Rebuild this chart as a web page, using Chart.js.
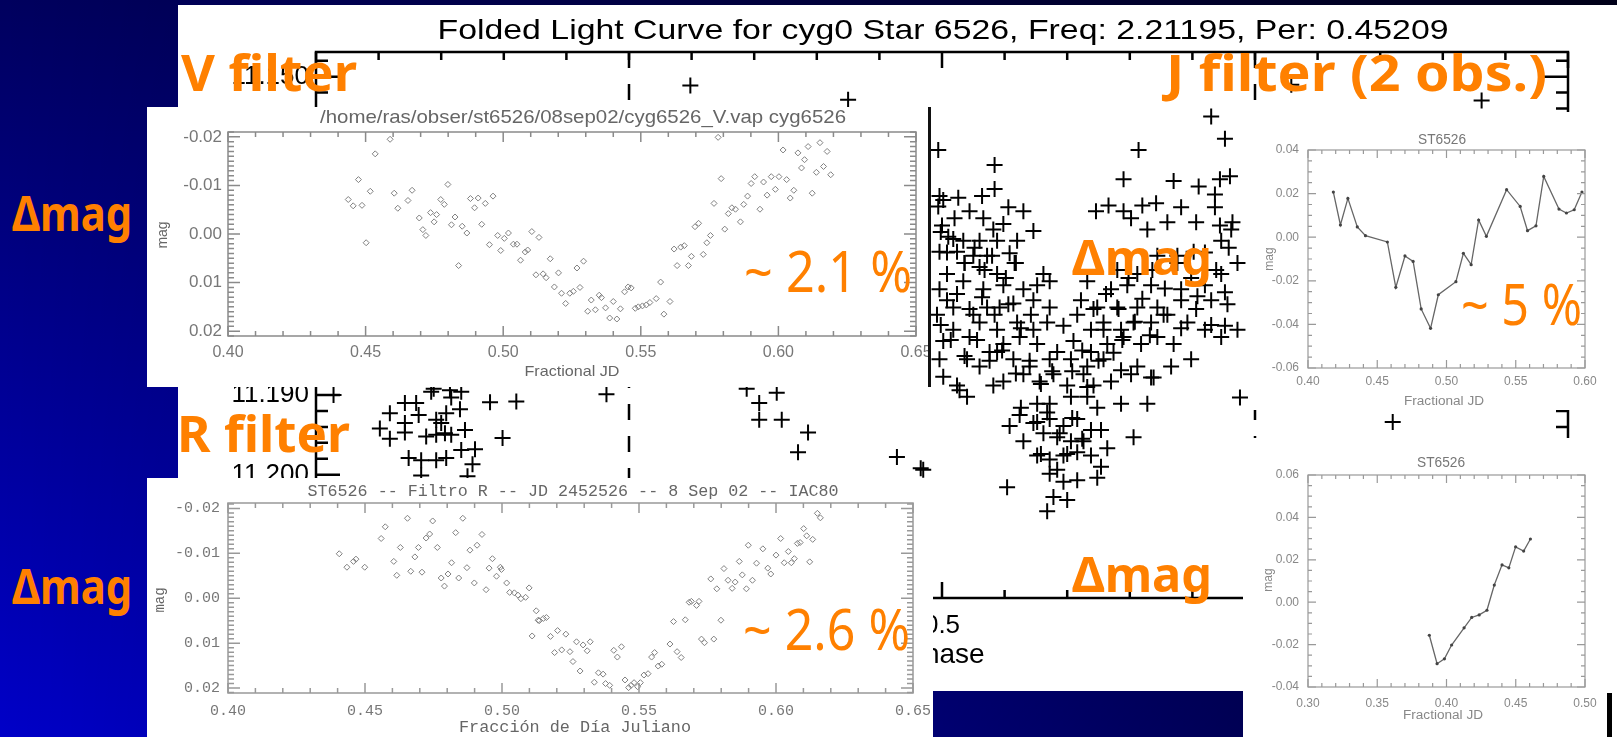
<!DOCTYPE html>
<html>
<head>
<meta charset="utf-8">
<script src="https://cdn.jsdelivr.net/npm/chart.js@4.4.1/dist/chart.umd.min.js"></script>
<style>
html, body { margin: 0; padding: 0; }
body {
    width: 1617px; height: 737px; overflow: hidden; position: relative;
    background: linear-gradient(to right, rgba(0,0,0,0) 0%, rgba(0,0,0,0.75) 100%),
                linear-gradient(to bottom, #00005e, #0000c8);
}
.panel { position: absolute; background: #fff; overflow: hidden; }
.panel canvas { position: absolute; left: 0; top: 0; }
.note {
    position: absolute; color: #ff8000; white-space: nowrap; line-height: 1;
    font-family: 'Comic Sans MS', 'Noto Sans', sans-serif; transform-origin: 0 0;
}
</style>
</head>
<body>

<div class="panel" id="mainPanel" style="left:178px;top:5px;width:1439px;height:686px">
    <canvas id="mainChart" width="1439" height="686"></canvas>
</div>
<div class="panel" id="vPanel" style="left:147px;top:107px;width:784px;height:280px">
    <canvas id="vChart" width="784" height="280"></canvas>
    <div style="position:absolute;left:781px;top:0;width:3px;height:280px;background:#111"></div>
</div>
<div class="panel" id="rPanel" style="left:147px;top:478px;width:786px;height:259px">
    <canvas id="rChart" width="786" height="259"></canvas>
</div>
<div class="panel" id="j1Panel" style="left:1250px;top:112px;width:367px;height:298px">
    <canvas id="j1Chart" width="367" height="298"></canvas>
</div>
<div class="panel" id="j2Panel" style="left:1243px;top:438px;width:374px;height:299px">
    <canvas id="j2Chart" width="374" height="299"></canvas>
    <div style="position:absolute;left:364px;top:255px;width:5px;height:44px;background:#000"></div>
</div>

<!-- orange slide annotations -->
<div class="note" data-x="181" data-b="91" data-w="176" style="font-size:50px;font-weight:bold">V filter</div>
<div class="note" data-x="1166" data-b="91" data-w="381" style="font-size:50px;font-weight:bold">J filter (2 obs.)</div>
<div class="note" data-x="177" data-b="452" data-w="173" style="font-size:50px;font-weight:bold">R filter</div>
<div class="note" data-x="12" data-b="231" data-w="120" style="font-size:48px;font-weight:bold">Δmag</div>
<div class="note" data-x="12" data-b="604" data-w="120" style="font-size:48px;font-weight:bold">Δmag</div>
<div class="note" data-x="1072" data-b="275" data-w="140" style="font-size:48px;font-weight:bold">Δmag</div>
<div class="note" data-x="1072" data-b="592" data-w="140" style="font-size:48px;font-weight:bold">Δmag</div>
<div class="note" data-x="744" data-b="292" data-w="168" style="font-size:56px">~ 2.1 %</div>
<div class="note" data-x="743" data-b="650" data-w="167" style="font-size:56px">~ 2.6 %</div>
<div class="note" data-x="1461" data-b="325" data-w="121" style="font-size:56px">~ 5 %</div>

<script>
// Folded light curve (background plot): phase / R magnitude
const mainPhase = [
    0.299, 0.425, 0.779, 0.931,
    0.014, 0.071, 0.080, 0.092, 0.094, 0.108, 0.116, 0.107, 0.139, 0.160,
    0.059, 0.082, 0.071, 0.104, 0.115, 0.096, 0.100, 0.051, 0.071, 0.088,
    0.096, 0.103, 0.108, 0.119, 0.059, 0.149, 0.116, 0.127, 0.074, 0.084,
    0.096, 0.104, 0.125, 0.084, 0.121, 0.232, 0.344, 0.368, 0.354, 0.354,
    0.372, 0.393, 0.385, 0.464, 0.483,
    0.715, 0.726, 0.657, 0.497, 0.542, 0.542, 0.645, 0.685, 0.705, 0.722,
    0.730, 0.718, 0.718, 0.532, 0.513, 0.498, 0.501, 0.522, 0.553, 0.565,
    0.623, 0.633, 0.645, 0.660, 0.671, 0.691, 0.703, 0.722, 0.732, 0.510,
    0.533, 0.573, 0.541, 0.549, 0.651, 0.664, 0.680, 0.500, 0.505, 0.517,
    0.530, 0.544, 0.560, 0.498, 0.512, 0.525, 0.536, 0.554, 0.558, 0.518,
    0.530, 0.504, 0.544, 0.581, 0.586, 0.616, 0.640, 0.656, 0.672, 0.688,
    0.701, 0.723, 0.731, 0.635, 0.648, 0.667, 0.691, 0.710, 0.723, 0.498,
    0.517, 0.533, 0.549, 0.565, 0.576, 0.536, 0.509, 0.504, 0.525, 0.546,
    0.557, 0.573, 0.586, 0.611, 0.624, 0.640, 0.656, 0.672, 0.691, 0.704,
    0.715, 0.726, 0.496, 0.509, 0.530, 0.544, 0.560, 0.573, 0.584, 0.597,
    0.608, 0.619, 0.629, 0.643, 0.653, 0.667, 0.680, 0.696, 0.710, 0.726,
    0.501, 0.522, 0.538, 0.549, 0.562, 0.576, 0.592, 0.605, 0.619, 0.632,
    0.645, 0.659, 0.672, 0.685, 0.699, 0.723, 0.498, 0.520, 0.530, 0.544,
    0.557, 0.570, 0.586, 0.603, 0.616, 0.629, 0.643, 0.656, 0.669, 0.683,
    0.512, 0.520, 0.541, 0.549, 0.565, 0.578, 0.589, 0.600, 0.613, 0.621,
    0.635, 0.651, 0.667, 0.576, 0.586, 0.603, 0.616, 0.624, 0.643, 0.664,
    0.653, 0.562, 0.576, 0.586, 0.597, 0.608, 0.619, 0.554, 0.565, 0.581,
    0.592, 0.603, 0.613, 0.627, 0.576, 0.586, 0.597, 0.608, 0.619, 0.632,
    0.627, 0.624, 0.586, 0.597, 0.552, 0.589, 0.600, 0.584,
    0.738, 0.860, 0.485,
    0.497, 0.499, 0.504, 0.509, 0.518, 0.526, 0.534, 0.540, 0.551, 0.559,
    0.512, 0.522, 0.532, 0.542, 0.553, 0.563, 0.571, 0.499, 0.507, 0.518,
    0.528, 0.538, 0.548, 0.559, 0.570, 0.579, 0.588, 0.501, 0.514,
    0.621, 0.631, 0.641, 0.649, 0.660, 0.668, 0.678, 0.688, 0.699, 0.710,
    0.719, 0.729, 0.736, 0.629, 0.644, 0.654, 0.666, 0.677, 0.691, 0.703,
    0.715, 0.728, 0.736, 0.612, 0.625, 0.637, 0.604, 0.616,
    0.563, 0.573, 0.584, 0.594, 0.604, 0.612, 0.579, 0.592, 0.600, 0.608
];
const mainMag = [
    11.1511, 11.1529, 11.1510, 11.1530,
    11.1900, 11.1910, 11.1910, 11.1896, 11.1892, 11.1903, 11.1896, 11.1894, 11.1909, 11.1908,
    11.1923, 11.1925, 11.1935, 11.1923, 11.1918, 11.1931, 11.1935, 11.1942, 11.1947, 11.1952,
    11.1950, 11.1948, 11.1950, 11.1944, 11.1955, 11.1954, 11.1969, 11.1968, 11.1979, 11.1982,
    11.1982, 11.1979, 11.1987, 11.2001, 11.2002, 11.1899, 11.1892, 11.1897, 11.1910, 11.1931,
    11.1931, 11.1947, 11.1972, 11.1978, 11.1992,
    11.1550, 11.1578, 11.1592, 11.1592, 11.1611, 11.1641, 11.1629, 11.1631, 11.1638, 11.1629,
    11.1625, 11.1648, 11.1664, 11.1650, 11.1652, 11.1650, 11.1655, 11.1669, 11.1664, 11.1669,
    11.1669, 11.1662, 11.1669, 11.1662, 11.1659, 11.1664, 11.1683, 11.1687, 11.1683, 11.1678,
    11.1678, 11.1694, 11.1692, 11.1685, 11.1678, 11.1692, 11.1683, 11.1687, 11.1701, 11.1706,
    11.1706, 11.1706, 11.1706, 11.1720, 11.1720, 11.1725, 11.1725, 11.1722, 11.1734, 11.1734,
    11.1739, 11.1748, 11.1748, 11.1748, 11.1757, 11.1757, 11.1743, 11.1748, 11.1725, 11.1725,
    11.1720, 11.1706, 11.1692, 11.1767, 11.1762, 11.1762, 11.1767, 11.1762, 11.1748, 11.1767,
    11.1757, 11.1767, 11.1762, 11.1767, 11.1762, 11.1790, 11.1790, 11.1781, 11.1799, 11.1790,
    11.1785, 11.1781, 11.1790, 11.1781, 11.1790, 11.1790, 11.1790, 11.1790, 11.1781, 11.1776,
    11.1781, 11.1771, 11.1799, 11.1818, 11.1809, 11.1818, 11.1809, 11.1818, 11.1809, 11.1813,
    11.1799, 11.1818, 11.1809, 11.1818, 11.1809, 11.1809, 11.1799, 11.1809, 11.1818, 11.1813,
    11.1832, 11.1827, 11.1846, 11.1836, 11.1827, 11.1836, 11.1846, 11.1832, 11.1846, 11.1836,
    11.1827, 11.1836, 11.1827, 11.1836, 11.1855, 11.1827, 11.1855, 11.1855, 11.1864, 11.1846,
    11.1855, 11.1864, 11.1855, 11.1855, 11.1864, 11.1855, 11.1869, 11.1864, 11.1878, 11.1864,
    11.1888, 11.1902, 11.1888, 11.1883, 11.1874, 11.1883, 11.1874, 11.1888, 11.1874, 11.1888,
    11.1883, 11.1874, 11.1878, 11.1911, 11.1911, 11.1902, 11.1902, 11.1916, 11.1911, 11.1911,
    11.1953, 11.1925, 11.1934, 11.1930, 11.1939, 11.1930, 11.1944, 11.1939, 11.1958, 11.1948,
    11.1953, 11.1958, 11.1958, 11.1944, 11.1976, 11.1981, 11.1976, 11.1972, 11.1976, 11.1967,
    11.1990, 11.2004, 11.1999, 11.2009, 11.2016, 11.2028, 11.2032, 11.2046,
    11.1903, 11.1934, 11.1994,
    11.1663, 11.1695, 11.1721, 11.1704, 11.1734, 11.1715, 11.1743, 11.1725, 11.1753, 11.1734,
    11.1773, 11.1792, 11.1777, 11.1799, 11.1786, 11.1816, 11.1799, 11.1812, 11.1831, 11.1851,
    11.1831, 11.1857, 11.1844, 11.1873, 11.1857, 11.1886, 11.1870, 11.1877, 11.1894,
    11.1792, 11.1773, 11.1792, 11.1753, 11.1779, 11.1743, 11.1766, 11.1734, 11.1753, 11.1721,
    11.1743, 11.1715, 11.1734, 11.1818, 11.1831, 11.1808, 11.1825, 11.1799, 11.1816, 11.1792,
    11.1812, 11.1786, 11.1818, 11.1844, 11.1857, 11.1847, 11.1870, 11.1890,
    11.1916, 11.1935, 11.1922, 11.1948, 11.1929, 11.1955, 11.1974, 11.1994, 11.1974, 11.2007
];
const mainXTicks = [0, 0.5, 1.0];
const mainYTicks = [11.15, 11.16, 11.17, 11.18, 11.19, 11.20, 11.21];
const mainPhaseMarks = [0.25, 0.75];

// V filter inset: fractional JD / delta mag
const vJD = [
    0.4437, 0.4455, 0.4474, 0.4487, 0.4502, 0.4517, 0.4535, 0.4589, 0.4604, 0.4617,
    0.4654, 0.4669, 0.4695, 0.4708, 0.4719, 0.4736, 0.4749, 0.4758, 0.4773, 0.4786,
    0.4799, 0.4812, 0.4825, 0.4838, 0.4851, 0.4868, 0.4881, 0.4896, 0.4909, 0.4922,
    0.4935, 0.4950, 0.4963, 0.4980, 0.4991, 0.5004, 0.5019, 0.5037, 0.5050, 0.5063,
    0.5080, 0.5089, 0.5104, 0.5119, 0.5130, 0.5145, 0.5156, 0.5171, 0.5186, 0.5201,
    0.5212, 0.5227, 0.5242, 0.5255, 0.5268, 0.5279, 0.5292, 0.5307, 0.5320, 0.5335,
    0.5349, 0.5357, 0.5372, 0.5387, 0.5400, 0.5413, 0.5426, 0.5441, 0.5454, 0.5465,
    0.5480, 0.5491, 0.5506, 0.5520, 0.5533, 0.5556, 0.5572, 0.5584, 0.5606, 0.5621,
    0.5632, 0.5645, 0.5658, 0.5673, 0.5684, 0.5697, 0.5710, 0.5727, 0.5740, 0.5753,
    0.5766, 0.5781, 0.5792, 0.5805, 0.5818, 0.5831, 0.5844, 0.5862, 0.5874, 0.5888,
    0.5901, 0.5914, 0.5933, 0.5946, 0.5959, 0.5974, 0.5989, 0.6002, 0.6017, 0.6030,
    0.6043, 0.6056, 0.6071, 0.6084, 0.6095, 0.6108, 0.6123, 0.6138, 0.6151, 0.6164,
    0.6177, 0.6190
];
const vMag = [
    -0.0071, -0.0058, -0.0112, -0.0059, 0.0018, -0.0088, -0.0165, -0.0195, -0.0084, -0.0053,
    -0.0069, -0.0090, -0.0033, -0.0009, 0.0003, -0.0044, -0.0025, -0.0040, -0.0071, -0.0061,
    -0.0102, -0.0019, -0.0035, 0.0065, -0.0016, -0.0002, -0.0073, -0.0054, -0.0074, -0.0020,
    -0.0063, 0.0022, -0.0078, 0.0003, 0.0034, 0.0009, -0.0002, 0.0021, 0.0021, 0.0054,
    0.0037, 0.0033, -0.0005, 0.0084, 0.0007, 0.0082, 0.0090, 0.0051, 0.0109, 0.0080,
    0.0122, 0.0143, 0.0122, 0.0118, 0.0070, 0.0110, 0.0056, 0.0159, 0.0136, 0.0156,
    0.0126, 0.0131, 0.0152, 0.0173, 0.0139, 0.0175, 0.0154, 0.0119, 0.0109, 0.0111,
    0.0153, 0.0150, 0.0148, 0.0146, 0.0141, 0.0133, 0.0099, 0.0165, 0.0139, 0.0031,
    0.0065, 0.0027, 0.0024, 0.0065, 0.0046, -0.0015, -0.0022, 0.0042, 0.0018, 0.0003,
    -0.0063, -0.0199, -0.0114, -0.0010, -0.0042, -0.0054, -0.0051, -0.0025, -0.0061, -0.0078,
    -0.0104, -0.0118, -0.0051, -0.0107, -0.0080, -0.0118, -0.0092, -0.0118, -0.0173, -0.0112,
    -0.0074, -0.0090, -0.0167, -0.0136, -0.0153, -0.0180, -0.0084, -0.0127, -0.0188, -0.0139,
    -0.0170, -0.0122
];

// R filter inset
const rJD = [
    0.4406, 0.4434, 0.4458, 0.4467, 0.4499, 0.4559, 0.4574, 0.4605, 0.4616, 0.4629,
    0.4655, 0.4667, 0.4682, 0.4695, 0.4708, 0.4723, 0.4736, 0.4747, 0.4764, 0.4778,
    0.4790, 0.4803, 0.4816, 0.4831, 0.4842, 0.4857, 0.4872, 0.4883, 0.4899, 0.4909,
    0.4927, 0.4942, 0.4953, 0.4965, 0.4980, 0.4994, 0.4998, 0.5017, 0.5028, 0.5045,
    0.5058, 0.5069, 0.5086, 0.5099, 0.5110, 0.5125, 0.5132, 0.5136, 0.5151, 0.5162,
    0.5177, 0.5192, 0.5203, 0.5218, 0.5233, 0.5248, 0.5259, 0.5272, 0.5285, 0.5296,
    0.5311, 0.5322, 0.5337, 0.5352, 0.5369, 0.5378, 0.5393, 0.5408, 0.5421, 0.5436,
    0.5449, 0.5462, 0.5471, 0.5482, 0.5495, 0.5505, 0.5518, 0.5533, 0.5546, 0.5557,
    0.5570, 0.5583, 0.5613, 0.5626, 0.5639, 0.5654, 0.5669, 0.5683, 0.5691, 0.5710,
    0.5719, 0.5728, 0.5739, 0.5762, 0.5773, 0.5784, 0.5799, 0.5810, 0.5825, 0.5840,
    0.5851, 0.5866, 0.5877, 0.5892, 0.5899, 0.5914, 0.5929, 0.5952, 0.5970, 0.5981,
    0.6000, 0.6017, 0.6030, 0.6045, 0.6056, 0.6067, 0.6078, 0.6088, 0.6101, 0.6112,
    0.6123, 0.6134, 0.6151, 0.6162
];
const rMag = [
    -0.0099, -0.0069, -0.0082, -0.0087, -0.0069, -0.0133, -0.0159, -0.0082, -0.0051, -0.0113,
    -0.0178, -0.0060, -0.0092, -0.0113, -0.0058, -0.0134, -0.0143, -0.0172, -0.0113, -0.0045,
    -0.0027, -0.0054, -0.0079, -0.0146, -0.0045, -0.0178, -0.0068, -0.0107, -0.0034, -0.0118,
    -0.0142, -0.0019, -0.0067, -0.0088, -0.0049, -0.0069, -0.0064, -0.0034, -0.0013, -0.0012,
    -0.0007, 0.0001, -0.0002, -0.0023, 0.0084, 0.0028, 0.0049, 0.0050, 0.0045, 0.0043,
    0.0085, 0.0121, 0.0072, 0.0115, 0.0080, 0.0119, 0.0141, 0.0097, 0.0162, 0.0104,
    0.0117, 0.0097, 0.0187, 0.0166, 0.0169, 0.0190, 0.0194, 0.0116, 0.0131, 0.0108,
    0.0182, 0.0199, 0.0194, 0.0188, 0.0197, 0.0188, 0.0171, 0.0168, 0.0131, 0.0121,
    0.0151, 0.0147, 0.0102, 0.0052, 0.0119, 0.0132, 0.0048, 0.0009, 0.0007, 0.0016,
    0.0007, 0.0091, 0.0099, -0.0043, 0.0091, -0.0021, 0.0049, -0.0066, -0.0040, -0.0022,
    -0.0036, -0.0082, -0.0052, -0.0021, -0.0118, -0.0040, -0.0078, -0.0110, -0.0067, -0.0054,
    -0.0096, -0.0133, -0.0079, -0.0104, -0.0079, -0.0088, -0.0122, -0.0124, -0.0155, -0.0139,
    -0.0081, -0.0131, -0.0189, -0.0179
];
const insetXTicks = [0.40, 0.45, 0.50, 0.55, 0.60, 0.65];
const insetYTicks = [-0.02, -0.01, 0.00, 0.01, 0.02];

// J filter, first night
const j1JD = [
    0.4183, 0.4234, 0.4288, 0.4356, 0.4415, 0.4573, 0.4634, 0.4700, 0.4759, 0.4817,
    0.4885, 0.4941, 0.5068, 0.5122, 0.5178, 0.5232, 0.5288, 0.5434, 0.5532, 0.5585,
    0.5646, 0.5702, 0.5812, 0.5866, 0.5922, 0.5978
];
const j1Mag = [
    0.0207, 0.0056, 0.0178, 0.0047, 0.0007, -0.0022, -0.0230, -0.0086, -0.0111, -0.0329,
    -0.0418, -0.0264, -0.0204, -0.0074, -0.0126, 0.0079, 0.0004, 0.0218, 0.0141, 0.0030,
    0.0052, 0.0279, 0.0129, 0.0111, 0.0126, 0.0207
];
const j1XTicks = [0.40, 0.45, 0.50, 0.55, 0.60];
const j1YTicks = [-0.06, -0.04, -0.02, 0.00, 0.02, 0.04];

// J filter, second night
const j2JD = [
    0.3876, 0.3932, 0.3985, 0.4037, 0.4127, 0.4182, 0.4236, 0.4292, 0.4345, 0.4401,
    0.4450, 0.4499, 0.4557, 0.4606
];
const j2Mag = [
    -0.0156, -0.0290, -0.0267, -0.0202, -0.0121, -0.0072, -0.0060, -0.0038, 0.0081, 0.0176,
    0.0162, 0.0261, 0.0241, 0.0298
];
const j2XTicks = [0.30, 0.35, 0.40, 0.45, 0.50];
const j2YTicks = [-0.04, -0.02, 0.00, 0.02, 0.04, 0.06];

// ---------------------------------------------------------------

function toPoints(xs, ys) {
    return xs.map((x, i) => ({x: x, y: ys[i]}));
}

function stepValues(min, max, step) {
    const out = [];
    const k0 = Math.ceil(min / step - 1e-6);
    for (let k = k0; k * step <= max + 1e-9; k++) out.push(k * step);
    return out;
}

function isMajor(v, step) {
    const q = v / step;
    return Math.abs(q - Math.round(q)) < 1e-4;
}

function drawText(ctx, t) {
    ctx.save();
    ctx.font = (t.weight || 'normal') + ' ' + t.size + 'px ' + t.family;
    ctx.fillStyle = t.color;
    ctx.textAlign = 'center';
    ctx.textBaseline = 'middle';
    ctx.translate(t.x, t.y);
    if (t.rot) ctx.rotate(t.rot);
    if (t.w) {
        const m = ctx.measureText(t.text).width;
        ctx.scale(t.w / m, 1);
    }
    ctx.fillText(t.text, 0, 0);
    ctx.restore();
}

// IDL-like box frame: all four sides with inward ticks, plus titles
const idlFrame = {
    id: 'idlFrame',
    afterDraw(chart, args, o) {
        const ctx = chart.ctx;
        const a = chart.chartArea;
        const x = chart.scales.x, y = chart.scales.y;
        ctx.save();
        ctx.strokeStyle = o.color;
        ctx.lineWidth = o.lw;
        ctx.strokeRect(a.left, a.top, a.right - a.left, a.bottom - a.top);
        ctx.beginPath();
        stepValues(x.min, x.max, o.xMinor).forEach(v => {
            const px = x.getPixelForValue(v);
            const len = isMajor(v, o.xMajor) ? o.xLen[0] : o.xLen[1];
            ctx.moveTo(px, a.bottom); ctx.lineTo(px, a.bottom - len);
            ctx.moveTo(px, a.top); ctx.lineTo(px, a.top + len);
        });
        stepValues(y.min, y.max, o.yMinor).forEach(v => {
            const py = y.getPixelForValue(v);
            const len = isMajor(v, o.yMajor) ? o.yLen[0] : o.yLen[1];
            ctx.moveTo(a.left, py); ctx.lineTo(a.left + len, py);
            ctx.moveTo(a.right, py); ctx.lineTo(a.right - len, py);
        });
        ctx.stroke();
        if (o.marks) {
            ctx.setLineDash([16, 16]);
            ctx.beginPath();
            o.marks.forEach(v => {
                const px = x.getPixelForValue(v);
                ctx.moveTo(px, a.top); ctx.lineTo(px, a.bottom);
            });
            ctx.stroke();
            ctx.setLineDash([]);
        }
        (o.texts || []).forEach(t => drawText(ctx, t));
        ctx.restore();
    }
};

function makeChart(id, area, sets, sx, sy, frame) {
    const cv = document.getElementById(id);
    const w = cv.width, h = cv.height;
    return new Chart(cv, {
        type: 'scatter',
        data: {datasets: sets},
        options: {
            responsive: false,
            animation: false,
            devicePixelRatio: 1,
            layout: {padding: {left: 0, top: area.top, right: w - area.right, bottom: 0}},
            plugins: {legend: {display: false}, tooltip: {enabled: false}, idlFrame: frame},
            scales: {
                x: {
                    type: 'linear', min: sx.min, max: sx.max,
                    afterBuildTicks: s => { s.ticks = sx.ticks.map(v => ({value: v})); },
                    afterFit: s => { s.height = h - area.bottom; s.paddingLeft = 0; s.paddingRight = 0; },
                    ticks: {callback: sx.fmt, font: sx.font, color: sx.color, padding: sx.pad,
                            autoSkip: false, maxRotation: 0},
                    grid: {display: false, drawTicks: false},
                    border: {display: false}
                },
                y: {
                    type: 'linear', min: sy.min, max: sy.max, reverse: !!sy.reverse,
                    afterBuildTicks: s => { s.ticks = sy.ticks.map(v => ({value: v})); },
                    afterFit: s => { s.width = area.left; s.paddingTop = 0; s.paddingBottom = 0; },
                    ticks: {callback: sy.fmt, font: sy.font, color: sy.color, padding: sy.pad,
                            autoSkip: false},
                    grid: {display: false, drawTicks: false},
                    border: {display: false}
                }
            }
        },
        plugins: [idlFrame]
    });
}

const f2 = v => v.toFixed(2);
const sans = 'Liberation Sans, Arial, sans-serif';
const mono = 'Liberation Mono, DejaVu Sans Mono, monospace';
const up = -Math.PI / 2;

// Folded light curve
makeChart('mainChart', {left: 138, right: 1390, top: 47, bottom: 593},
    [{data: toPoints(mainPhase, mainMag), pointStyle: 'cross', pointRadius: 8,
      borderColor: '#000', borderWidth: 2, showLine: false}],
    {min: 0, max: 1, ticks: mainXTicks, fmt: v => v.toFixed(1),
     font: {family: sans, size: 26}, color: '#000', pad: 12},
    {min: 11.1469, max: 11.2155, reverse: true, ticks: mainYTicks, fmt: v => v.toFixed(3),
     font: {family: sans, size: 26}, color: '#000', pad: 7},
    {color: '#000', lw: 2.5, xMinor: 0.05, xMajor: 0.5, xLen: [16, 8],
     yMinor: 0.002, yMajor: 0.01, yLen: [24, 12], marks: mainPhaseMarks,
     texts: [
        {text: 'Folded Light Curve for cyg0 Star 6526, Freq: 2.21195, Per: 0.45209',
         x: 765, y: 26, size: 28, family: sans, color: '#000', w: 1011},
        {text: 'Phase', x: 767, y: 650, size: 28, family: sans, color: '#000'}
     ]});

// V filter
makeChart('vChart', {left: 81, right: 769, top: 25, bottom: 229},
    [{data: toPoints(vJD, vMag), pointStyle: 'rectRot', pointRadius: 3,
      borderColor: '#808080', borderWidth: 1, backgroundColor: 'rgba(0,0,0,0)', showLine: false}],
    {min: 0.40, max: 0.65, ticks: insetXTicks, fmt: f2,
     font: {family: sans, size: 16}, color: '#777', pad: 7},
    {min: -0.021, max: 0.021, reverse: true, ticks: insetYTicks, fmt: f2,
     font: {family: sans, size: 17}, color: '#777', pad: 6},
    {color: '#8a8a8a', lw: 1.5, xMinor: 0.01, xMajor: 0.05, xLen: [10, 5],
     yMinor: 0.001, yMajor: 0.01, yLen: [12, 6],
     texts: [
        {text: '/home/ras/obser/st6526/08sep02/cyg6526_V.vap cyg6526',
         x: 436, y: 11, size: 19, family: sans, color: '#666', w: 526},
        {text: 'Fractional JD', x: 425, y: 265, size: 15, family: sans, color: '#666', w: 95},
        {text: 'mag', x: 16, y: 128, size: 14, family: sans, color: '#666', rot: up}
     ]});

// R filter
makeChart('rChart', {left: 81, right: 766, top: 25, bottom: 215},
    [{data: toPoints(rJD, rMag), pointStyle: 'rectRot', pointRadius: 3,
      borderColor: '#808080', borderWidth: 1, backgroundColor: 'rgba(0,0,0,0)', showLine: false}],
    {min: 0.40, max: 0.65, ticks: insetXTicks, fmt: f2,
     font: {family: mono, size: 15}, color: '#777', pad: 9},
    {min: -0.0212, max: 0.0211, reverse: true, ticks: insetYTicks, fmt: f2,
     font: {family: mono, size: 15}, color: '#777', pad: 8},
    {color: '#999', lw: 1.5, xMinor: 0.01, xMajor: 0.05, xLen: [10, 5],
     yMinor: 0.001, yMajor: 0.01, yLen: [12, 6],
     texts: [
        {text: 'ST6526 -- Filtro R -- JD 2452526 -- 8 Sep 02 -- IAC80',
         x: 426, y: 14, size: 16, family: mono, color: '#666', w: 531},
        {text: 'Fracción de Día Juliano', x: 428, y: 250, size: 16, family: mono, color: '#666', w: 232},
        {text: 'mag', x: 13, y: 122, size: 14, family: mono, color: '#666', rot: up}
     ]});

// J filter, night 1
makeChart('j1Chart', {left: 58, right: 335, top: 38, bottom: 256},
    [{data: toPoints(j1JD, j1Mag), showLine: true, borderColor: '#666', borderWidth: 1.3,
      pointRadius: 1.6, pointBackgroundColor: '#444', pointBorderWidth: 0, tension: 0}],
    {min: 0.40, max: 0.60, ticks: j1XTicks, fmt: f2,
     font: {family: sans, size: 12}, color: '#888', pad: 6},
    {min: -0.06, max: 0.04, ticks: j1YTicks, fmt: f2,
     font: {family: sans, size: 12}, color: '#888', pad: 9},
    {color: '#999', lw: 1.2, xMinor: 0.01, xMajor: 0.05, xLen: [8, 4],
     yMinor: 0.005, yMajor: 0.02, yLen: [8, 4],
     texts: [
        {text: 'ST6526', x: 192, y: 28, size: 14, family: sans, color: '#777', w: 48},
        {text: 'Fractional JD', x: 194, y: 290, size: 12, family: sans, color: '#888', w: 80},
        {text: 'mag', x: 20, y: 147, size: 12, family: sans, color: '#888', rot: up}
     ]});

// J filter, night 2
makeChart('j2Chart', {left: 65, right: 342, top: 37, bottom: 249},
    [{data: toPoints(j2JD, j2Mag), showLine: true, borderColor: '#666', borderWidth: 1.3,
      pointRadius: 1.6, pointBackgroundColor: '#444', pointBorderWidth: 0, tension: 0}],
    {min: 0.30, max: 0.50, ticks: j2XTicks, fmt: f2,
     font: {family: sans, size: 12}, color: '#888', pad: 9},
    {min: -0.04, max: 0.06, ticks: j2YTicks, fmt: f2,
     font: {family: sans, size: 12}, color: '#888', pad: 9},
    {color: '#999', lw: 1.2, xMinor: 0.01, xMajor: 0.05, xLen: [8, 4],
     yMinor: 0.005, yMajor: 0.02, yLen: [8, 4],
     texts: [
        {text: 'ST6526', x: 198, y: 25, size: 14, family: sans, color: '#777', w: 48},
        {text: 'Fractional JD', x: 200, y: 278, size: 12, family: sans, color: '#888', w: 80},
        {text: 'mag', x: 26, y: 142, size: 12, family: sans, color: '#888', rot: up}
     ]});

// place the orange notes: left edge, baseline and width given in data-*
document.querySelectorAll('.note').forEach(el => {
    const probe = document.createElement('span');
    probe.style.cssText = 'display:inline-block;width:0;height:0;vertical-align:baseline';
    el.appendChild(probe);
    const base = probe.offsetTop;
    const w = el.getBoundingClientRect().width;
    el.style.left = el.dataset.x + 'px';
    el.style.top = (el.dataset.b - base) + 'px';
    el.style.transform = 'scaleX(' + (el.dataset.w / w) + ')';
});
</script>
</body>
</html>
